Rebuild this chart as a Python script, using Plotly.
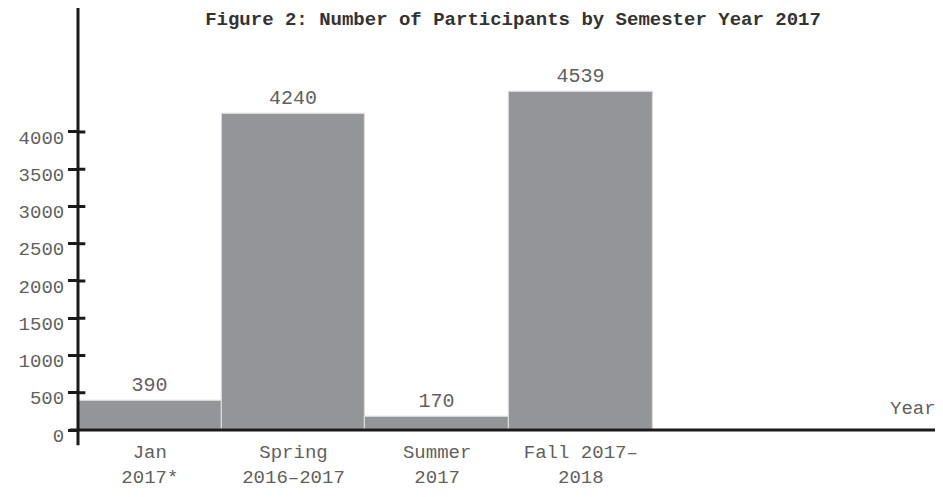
import plotly.graph_objects as go

categories = ["Jan<br>2017*", "Spring<br>2016–2017", "Summer<br>2017", "Fall 2017–<br>2018"]
participants = [390, 4240, 170, 4539]
y_ticks = [0, 500, 1000, 1500, 2000, 2500, 3000, 3500, 4000]
title_text = "Figure 2: Number of Participants by Semester Year 2017"
x_title = "Year"

FONT = "Liberation Mono, Courier New, monospace"
GREY_TXT = "#5f5f5f"

fig = go.Figure()
fig.add_trace(go.Bar(
    x=categories,
    y=participants,
    text=[str(v) for v in participants],
    textposition="outside",
    textfont=dict(family=FONT, size=20, color=GREY_TXT),
    marker=dict(color="#939598", line=dict(color="#d8d8d8", width=1.2)),
    cliponaxis=False,
    hoverinfo="skip",
))

shapes = []
# y-axis line (extends below x-axis)
shapes.append(dict(type="line", xref="paper", yref="paper", x0=0, x1=0, y0=-0.036, y1=1,
                   line=dict(color="#1a1a1a", width=3)))
# x-axis line (extends left of y-axis)
shapes.append(dict(type="line", xref="paper", yref="paper", x0=-0.0095, x1=1, y0=0, y1=0,
                   line=dict(color="#1a1a1a", width=3)))
# inner half of crossing ticks
for t in y_ticks[1:]:
    shapes.append(dict(type="line", xref="paper", yref="y", x0=0, x1=0.0085, y0=t, y1=t,
                       line=dict(color="#1a1a1a", width=3)))

W, H = 935, 489
fig.update_layout(
    width=W, height=H,
    margin=dict(l=70, r=3, t=0, b=67),
    paper_bgcolor="white", plot_bgcolor="white",
    bargap=0,
    showlegend=False,
    title=dict(text=title_text, x=(513 - 8) / W, xanchor="center", y=1 - 10 / H, yanchor="middle",
               font=dict(family=FONT, size=19, color="#333333", weight="bold")),
    xaxis=dict(
        type="category", range=[-0.5, 5.5],
        showline=False, showgrid=False, zeroline=False, ticks="",
        ticklabelstandoff=8,
        tickfont=dict(family=FONT, size=19, color=GREY_TXT),
    ),
    yaxis=dict(
        range=[0, 5664],
        tickvals=y_ticks, ticktext=[str(t) for t in y_ticks],
        showline=False, showgrid=False, zeroline=False,
        ticks="outside", ticklen=9, tickwidth=3, tickcolor="#1a1a1a",
        ticklabelshift=5,
        tickfont=dict(family=FONT, size=19, color=GREY_TXT),
    ),
    shapes=shapes,
    annotations=[dict(text=x_title, xref="paper", yref="paper", x=1, y=0,
                      xanchor="right", yanchor="bottom", yshift=8, xshift=-2, showarrow=False,
                      font=dict(family=FONT, size=19, color=GREY_TXT))],
)

fig.write_html("out.html")
